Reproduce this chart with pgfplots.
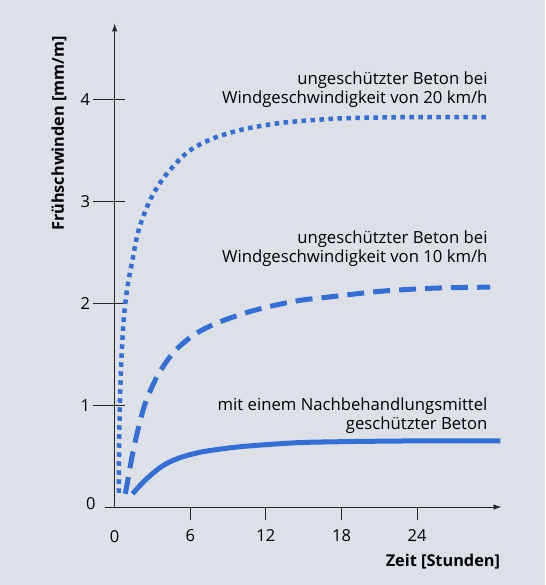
\documentclass[border=0pt]{standalone}
\usepackage{fontspec}
\setmainfont{Open Sans}
\usepackage{pgfplots}
\pgfplotsset{compat=1.18}
\usetikzlibrary{arrows.meta}
\definecolor{bg}{RGB}{221,225,231}
\definecolor{curve}{RGB}{52,110,214}
\begin{document}
\begin{tikzpicture}[x=1pt,y=1pt]
\fill[bg] (0,0) rectangle (545,-585);
\begin{axis}[
  at={(114.7pt,-507pt)}, anchor=origin,
  x=12.6pt, y=101.8pt,
  xmin=-0.77, xmax=30.7, ymin=0, ymax=4.75,
  axis lines=middle,
  axis line style={line width=0.9pt, black!85, -{Latex[length=8pt,width=5.5pt]}},
  hide obscured x ticks=false, hide obscured y ticks=false,
  major tick length=13pt,
  xtick={6,12,18,24}, ytick={0},
  ytick style={draw=none},
  xtick style={line width=0.9pt, black!85},
  xtick align=outside,
  extra x ticks={0},
  extra x tick style={xtick style={draw=none}},
  extra y ticks={1,2,3,4},
  extra y tick style={major tick length=32pt, ytick align=center,
     ytick style={draw=black!85, line width=0.9pt, xshift=-5.7pt},
     yticklabel style={xshift=4pt, yshift=-3pt}},
  tick label style={font=\fontsize{16.5}{19}\selectfont, /pgf/number format/assume math mode=true},
  yticklabel style={xshift=-9pt, yshift=3pt},
  xticklabel style={yshift=-6.5pt},
  clip=false,
]
\addplot[curve, line width=4.5pt, line cap=butt, dash pattern=on 4.5pt off 4.5pt, smooth, tension=0.5] coordinates {
(0.33,0.14) (0.35,0.6) (0.41,1.0) (0.52,1.42) (0.72,1.85) (1.0,2.15) (1.4,2.42) (1.9,2.72) (2.75,3.0) (3.8,3.22) (5.2,3.42) (6.3,3.53) (8,3.63) (10.2,3.71) (13,3.77) (15.7,3.80) (18.5,3.82) (24,3.83) (29.8,3.83)
};
\addplot[curve, line width=5pt, line cap=butt, dash pattern=on 17pt off 9pt, smooth, tension=0.5] coordinates {
(0.84,0.13) (0.98,0.22) (1.37,0.49) (1.85,0.76) (2.43,1.02) (3.4,1.29) (4.68,1.52) (6.27,1.69) (7.98,1.80) (10.2,1.90) (12.3,1.97) (14.7,2.03) (16.8,2.06) (21.2,2.12) (25.4,2.15) (29.8,2.16)
};
\addplot[curve, line width=5pt, line cap=butt, smooth, tension=0.5] coordinates {
(1.42,0.13) (2.43,0.265) (3.75,0.40) (5.08,0.48) (6.67,0.535) (8.25,0.567) (10.2,0.595) (12.9,0.62) (15.2,0.635) (20,0.645) (25,0.65) (30.6,0.65)
};
\node[anchor=east, align=right, inner sep=0pt, font=\fontsize{16.7}{19}\selectfont] at (axis cs:29.6,4.10) {ungeschützter Beton bei\\Windgeschwindigkeit von 20 km/h};
\node[anchor=east, align=right, inner sep=0pt, font=\fontsize{16.7}{19}\selectfont] at (axis cs:29.6,2.54) {ungeschützter Beton bei\\Windgeschwindigkeit von 10 km/h};
\node[anchor=east, align=right, inner sep=0pt, font=\fontsize{16.7}{19}\selectfont] at (axis cs:29.6,0.90) {mit einem Nachbehandlungsmittel\\geschützter Beton};
\node[anchor=east, inner sep=0pt, font=\bfseries\fontsize{16.3}{18}\selectfont] at (axis cs:30.6,-0.536) {Zeit [Stunden]};
\node[rotate=90, inner sep=0pt, font=\bfseries\fontsize{16.3}{18}\selectfont] at (axis cs:-4.42,3.67) {Frühschwinden [mm/m]};
\end{axis}
\end{tikzpicture}
\end{document}
